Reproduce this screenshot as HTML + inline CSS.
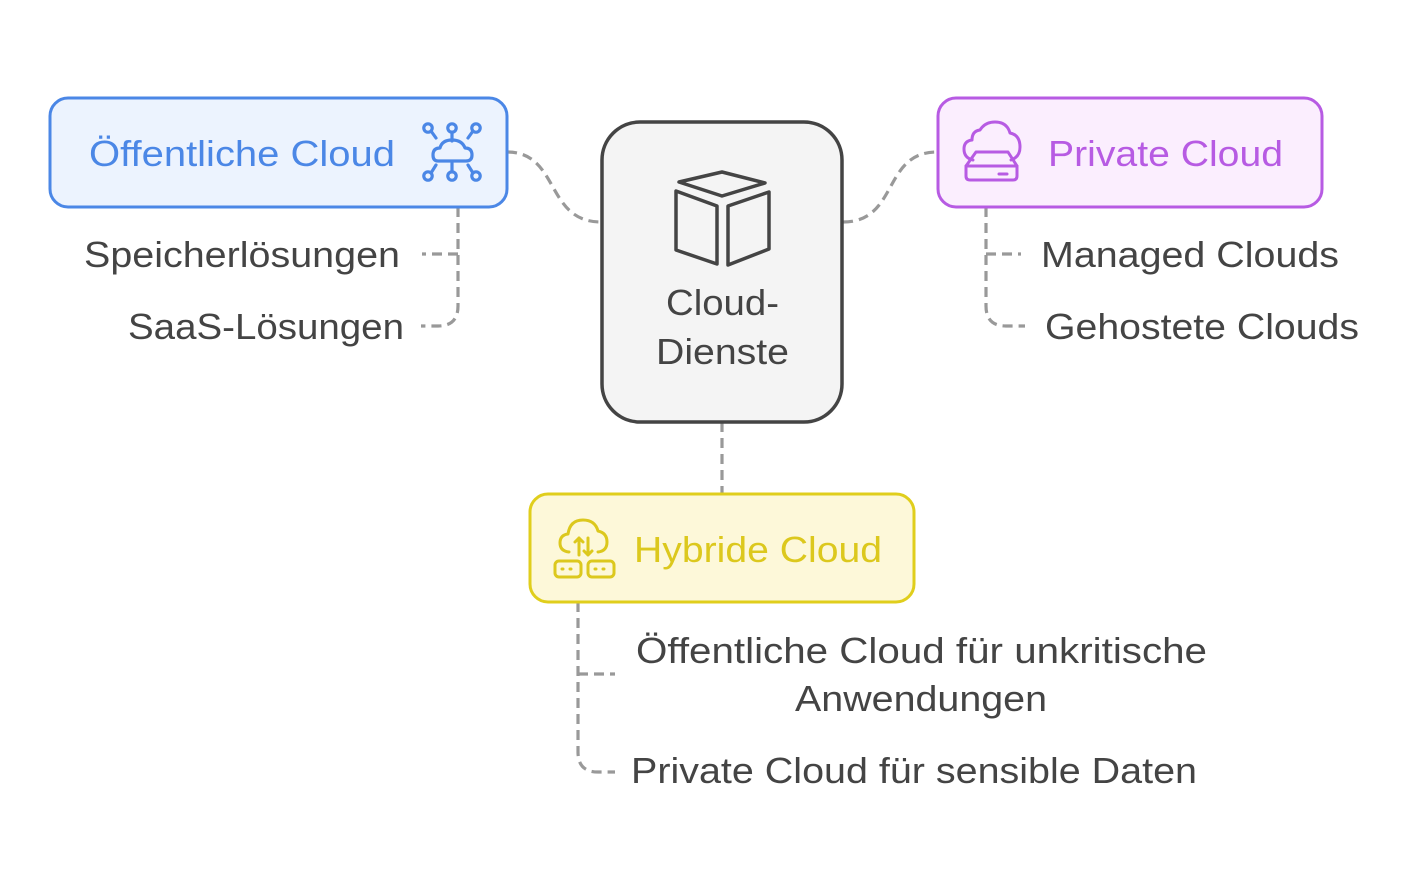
<!DOCTYPE html>
<html><head><meta charset="utf-8"><style>
html,body{margin:0;padding:0;background:#fff;}
svg{display:block;}
text{font-family:"Liberation Sans",sans-serif;}
</style></head><body>
<svg width="1420" height="892" viewBox="0 0 1420 892" xmlns="http://www.w3.org/2000/svg">
<g fill="none" stroke="#999" stroke-width="3.2" stroke-dasharray="10 6">
  <path d="M507,152 C560,152 545,222 601,222"/>
  <path d="M843,222 C899,222 882,152 937,152"/>
  <path d="M458,207 L458,306 Q458,326 438,326 L421,326"/>
  <path d="M458,254 L422,254"/>
  <path d="M986,207 L986,306 Q986,326 1006,326 L1025,326"/>
  <path d="M986,254 L1021,254"/>
  <path d="M722,422 L722,493"/>
  <path d="M578,602 L578,752 Q578,772 598,772 L615,772"/>
  <path d="M578,674 L615,674"/>
</g>
<!-- boxes -->
<rect x="50" y="98" width="457" height="109" rx="18" fill="#ecf3fe" stroke="#4b87e6" stroke-width="3"/>
<rect x="938" y="98" width="384" height="109" rx="18" fill="#fbeefe" stroke="#b75be3" stroke-width="3"/>
<rect x="530" y="494" width="384" height="108" rx="18" fill="#fdf8d9" stroke="#e0ce1c" stroke-width="3"/>
<rect x="602" y="122" width="240" height="300" rx="38" fill="#f4f4f4" stroke="#444" stroke-width="3.5"/>

<!-- cube icon -->
<g fill="none" stroke="#444" stroke-width="3.5" stroke-linejoin="round">
  <path d="M679,182 L722,172 L765,183 L722,196 Z"/>
  <path d="M676,191 L676,250 L717,264 L717,206 Z"/>
  <path d="M728,206 L728,265 L769,249 L769,192 Z"/>
</g>

<!-- blue icon -->
<g fill="none" stroke="#4b87e6" stroke-width="3.2" stroke-linecap="round" stroke-linejoin="round">
  <circle cx="428" cy="128" r="4.2"/><circle cx="452" cy="128" r="4.2"/><circle cx="476" cy="128" r="4.2"/>
  <circle cx="428" cy="176" r="4.2"/><circle cx="452" cy="176" r="4.2"/><circle cx="476" cy="176" r="4.2"/>
  <path d="M431,131 L436,138 M452,132 L452,141 M473,131 L468,138"/>
  <path d="M431,173 L436,165 M452,172 L452,163 M473,173 L468,165"/>
  <path d="M438,161 L466,161 Q472,161 472,155 Q472,148 465,148 Q462,140 452,140 Q442,140 440,148 Q433,148 433,155 Q433,161 438,161 Z"/>
</g>

<!-- purple icon -->
<g fill="none" stroke="#b75be3" stroke-width="3" stroke-linecap="round" stroke-linejoin="round">
  <path d="M973,160 Q964,158 964,149 Q964,141 972,140 Q972,131 980,130 Q985,122 995,122 Q1007,122 1010,133 Q1020,135 1020,147 Q1020,157 1011,160"/>
  <path d="M976,152 L1008,152 L1017,166 L1017,176 Q1017,180 1013,180 L970,180 Q966,180 966,176 L966,166 Z"/>
  <path d="M966,166 L1017,166"/>
  <path d="M999,174 L1007,174"/>
</g>

<!-- yellow icon -->
<g fill="none" stroke="#dcc81d" stroke-width="3" stroke-linecap="round" stroke-linejoin="round">
  <path d="M569,552 Q560,551 560,543 Q560,535 568,534 Q570,520 583,520 Q595,520 598,531 Q607,533 607,542 Q607,551 598,552"/>
  <path d="M579,555 L579,538 M575,542 L579,538 L583,542"/>
  <path d="M588,538 L588,555 M584,551 L588,555 L592,551"/>
  <rect x="555" y="561" width="26" height="16" rx="4"/>
  <rect x="588" y="561" width="26" height="16" rx="4"/>
  <path d="M562,569 L563,569 M570,569 L571,569 M595,569 L596,569 M603,569 L604,569"/>
</g>

<!-- texts -->
<g font-size="36">
  <text x="89" y="166" fill="#4b87e6" textLength="306" lengthAdjust="spacingAndGlyphs">Öffentliche Cloud</text>
  <text x="1048" y="166" fill="#b75be3" textLength="235" lengthAdjust="spacingAndGlyphs">Private Cloud</text>
  <text x="634" y="562" fill="#dcc81d" textLength="248" lengthAdjust="spacingAndGlyphs">Hybride Cloud</text>
  <g fill="#444">
    <text x="84" y="267" textLength="316" lengthAdjust="spacingAndGlyphs">Speicherlösungen</text>
    <text x="128" y="339" textLength="276" lengthAdjust="spacingAndGlyphs">SaaS-Lösungen</text>
    <text x="666" y="315" textLength="113" lengthAdjust="spacingAndGlyphs">Cloud-</text>
    <text x="656" y="364" textLength="133" lengthAdjust="spacingAndGlyphs">Dienste</text>
    <text x="1041" y="267" textLength="298" lengthAdjust="spacingAndGlyphs">Managed Clouds</text>
    <text x="1045" y="339" textLength="314" lengthAdjust="spacingAndGlyphs">Gehostete Clouds</text>
    <text x="636" y="663" textLength="571" lengthAdjust="spacingAndGlyphs">Öffentliche Cloud für unkritische</text>
    <text x="795" y="711" textLength="252" lengthAdjust="spacingAndGlyphs">Anwendungen</text>
    <text x="631" y="783" textLength="566" lengthAdjust="spacingAndGlyphs">Private Cloud für sensible Daten</text>
  </g>
</g>
</svg>
</body></html>
